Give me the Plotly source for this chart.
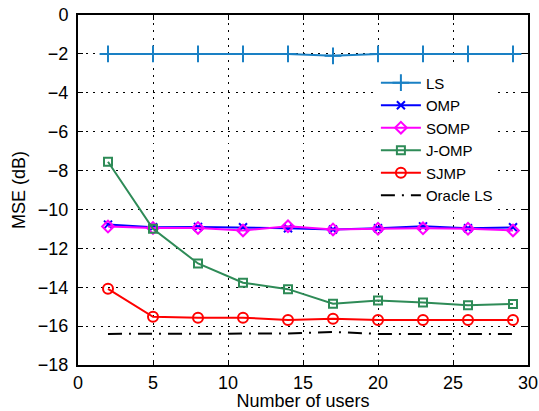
import plotly.graph_objects as go

users = [2, 5, 8, 11, 14, 17, 20, 23, 26, 29]
ls_mse = [-2.0, -2.0, -2.0, -2.0, -2.0, -2.1, -2.0, -2.0, -2.0, -2.0]
omp_mse = [-10.78, -10.92, -10.9, -10.92, -10.97, -11.03, -10.97, -10.87, -10.97, -10.92]
somp_mse = [-10.88, -10.95, -10.95, -11.08, -10.87, -11.03, -10.99, -10.97, -10.99, -11.08]
jomp_mse = [-7.55, -10.99, -12.78, -13.77, -14.1, -14.85, -14.68, -14.78, -14.93, -14.86]
sjmp_mse = [-14.08, -15.52, -15.57, -15.57, -15.68, -15.62, -15.68, -15.68, -15.68, -15.68]
oracle_mse = [-16.4, -16.4, -16.4, -16.4, -16.38, -16.3, -16.4, -16.4, -16.4, -16.4]

x_ticks = [0, 5, 10, 15, 20, 25, 30]
y_ticks = [0, -2, -4, -6, -8, -10, -12, -14, -16, -18]

series = [
    ("LS", ls_mse, "#1a80c4", "cross-thin-open", 12, "solid"),
    ("OMP", omp_mse, "#0000ff", "x-thin-open", 8, "solid"),
    ("SOMP", somp_mse, "#ff00ff", "diamond-open", 9, "solid"),
    ("J-OMP", jomp_mse, "#2e8b57", "square-open", 8, "solid"),
    ("SJMP", sjmp_mse, "#ff0000", "circle-open", 10, "solid"),
]

FONT = "Liberation Sans, Arial"

fig = go.Figure()
for name, vals, color, sym, size, dash in series:
    fig.add_trace(go.Scatter(
        x=users, y=vals, name=name, mode="lines+markers",
        line=dict(color=color, width=2, dash=dash),
        marker=dict(symbol=sym, size=size, color=color, line=dict(width=2, color=color)),
    ))
fig.add_trace(go.Scatter(
    x=users, y=oracle_mse, name="Oracle LS", mode="lines",
    line=dict(color="black", width=2, dash="14px,7px,2px,7px"),
))

axis_common = dict(
    showline=True, linecolor="black", linewidth=2, mirror="ticks",
    ticks="inside", ticklen=5, tickcolor="black", tickwidth=1,
    showgrid=True, gridcolor="black", gridwidth=1, griddash="2px,5.5px",
    zeroline=False, automargin=False,
    tickfont=dict(family=FONT, size=18, color="black"),
)

fig.update_xaxes(
    range=[0, 30], tickvals=x_ticks,
    title=dict(text="Number of users", font=dict(family=FONT, size=18, color="black"), standoff=4),
    **axis_common,
)
fig.update_yaxes(
    range=[-18, 0], tickvals=y_ticks, ticklabelstandoff=4,
    title=dict(text="MSE (dB)", font=dict(family=FONT, size=18, color="black"), standoff=8),
    **axis_common,
)

fig.update_layout(
    width=539, height=411,
    margin=dict(l=78, r=11, t=15, b=46),
    paper_bgcolor="white", plot_bgcolor="white",
    showlegend=True,
    legend=dict(
        x=0.662, y=0.853, xanchor="left", yanchor="top",
        bgcolor="white", borderwidth=0,
        font=dict(family=FONT, size=15, color="black"),
        tracegroupgap=0, itemwidth=40,
    ),
)

fig.write_html(
    "out.html",
    config={"displayModeBar": False},
    post_script="document.body.style.margin='0';document.body.style.overflow='hidden';",
)
